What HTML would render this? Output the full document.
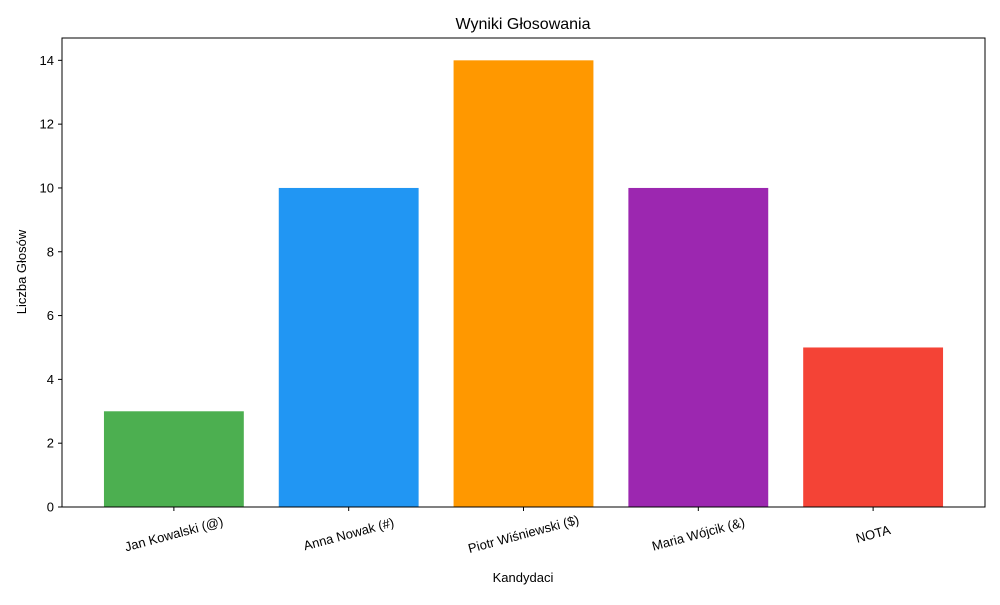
<!DOCTYPE html>
<html><head><meta charset="utf-8"><style>
body{margin:0;background:#fff;font-family:"Liberation Sans","DejaVu Sans",sans-serif;}
</style></head><body>
<svg id="chart" width="1000" height="600" xmlns="http://www.w3.org/2000/svg">
<rect width="1000" height="600" fill="#fff"/>
<text x="523" y="29" text-anchor="middle" font-size="16">Wyniki Głosowania</text>
<text x="523" y="582" text-anchor="middle" font-size="13">Kandydaci</text>
<text transform="translate(26,272) rotate(-90)" text-anchor="middle" font-size="13">Liczba Głosów</text>
<g id="bars"></g><g id="yticks"></g><g id="xticks"></g>
<rect x="62" y="38" width="923" height="469" fill="none" stroke="#000" stroke-width="1"/>
</svg>
<script>
const categories=["Jan Kowalski (@)","Anna Nowak (#)","Piotr Wiśniewski ($)","Maria Wójcik (&)","NOTA"];
const votes=[3,10,14,10,5];
const colors=["#4caf50","#2196f3","#ff9800","#9c27b0","#f44336"];
const yTicks=[0,2,4,6,8,10,12,14];
const NS="http://www.w3.org/2000/svg";
const L=62,R=985,T=38,B=507,yMax=14.7,xMin=-0.64,xMax=4.64;
const xs=v=>L+(v-xMin)/(xMax-xMin)*(R-L);
const ys=v=>B-v/yMax*(B-T);
function mk(tag,attrs,parent){const e=document.createElementNS(NS,tag);for(const k in attrs)e.setAttribute(k,attrs[k]);parent.appendChild(e);return e;}
const gb=document.getElementById('bars'),gy=document.getElementById('yticks'),gx=document.getElementById('xticks');
votes.forEach((v,i)=>{
  const r=mk('rect',{x:xs(i-0.4),y:ys(v),width:xs(i+0.4)-xs(i-0.4),height:ys(0)-ys(v),fill:colors[i]},gb);
  
  
  const cx=xs(i);
  const t=mk('line',{x1:cx,x2:cx,y1:B,y2:B+4,stroke:'#000'},gx);
  
  
  const cy=B+27;
  const lb=mk('text',{x:cx,y:cy+4.5,'text-anchor':'middle','font-size':'13',transform:`rotate(-15 ${cx} ${cy})`},gx);
  lb.textContent=categories[i];
  
  
});
yTicks.forEach(v=>{
  const y=ys(v);
  const t=mk('line',{x1:L-4,x2:L,y1:y,y2:y,stroke:'#000'},gy);
  
  
  const lb=mk('text',{x:L-8,y:y+4.5,'text-anchor':'end','font-size':'13'},gy);
  lb.textContent=v;
  
  
});
</script>
</body></html>
